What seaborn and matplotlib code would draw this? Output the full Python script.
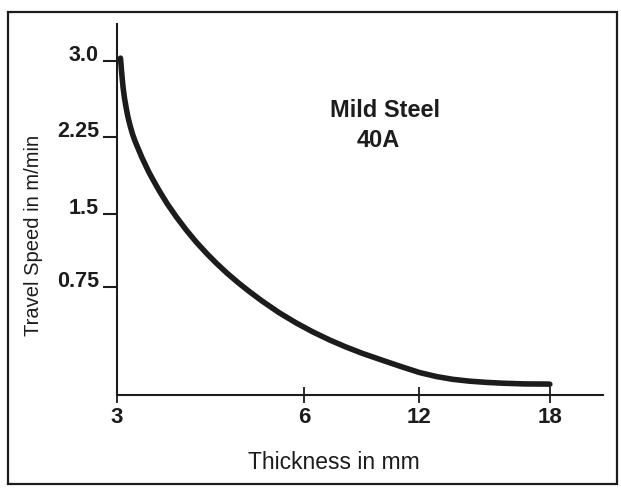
import numpy as np
import matplotlib
matplotlib.use("Agg")
import matplotlib.pyplot as plt
import seaborn as sns
from matplotlib.patches import Rectangle

# values
thickness = [3.056, 3.069, 3.083, 3.099, 3.12, 3.148, 3.176, 3.212, 3.249, 3.289,
             3.337, 3.401, 3.449, 3.513, 3.594, 3.674, 3.802, 3.947, 4.107, 4.267,
             4.428, 4.588, 4.765, 4.957, 5.134, 5.326, 5.599, 5.872, 6.421, 7.316,
             8.158, 9.053, 10.105, 11.158, 12.046, 12.824, 13.557, 14.336, 15.115,
             15.847, 16.855, 17.863, 18.0]
speed = [3.025, 2.926, 2.828, 2.73, 2.632, 2.534, 2.446, 2.358, 2.279, 2.211,
         2.141, 2.049, 1.987, 1.906, 1.816, 1.73, 1.603, 1.474, 1.338, 1.214,
         1.101, 0.997, 0.891, 0.786, 0.714, 0.652, 0.571, 0.5, 0.44, 0.383,
         0.335, 0.289, 0.241, 0.194, 0.156, 0.128, 0.109, 0.096, 0.0875,
         0.082, 0.077, 0.076, 0.075]

x_ticks = [3, 6, 12, 18]
y_ticks = [0.75, 1.5, 2.25, 3.0]
y_tick_labels = ["0.75", "1.5", "2.25", "3.0"]

# the sketch isn't evenly spaced, so the axes use a piecewise scale
x_anchor, x_pos = [3, 6, 12, 18], [0, 187, 301, 432]
y_anchor, y_pos = [0, 0.75, 1.5, 2.25, 3.0], [0, 108, 181, 258, 334.5]


def piecewise(src, dst):
    src = np.asarray(src, float)
    dst = np.asarray(dst, float)
    lo = (dst[1] - dst[0]) / (src[1] - src[0])
    hi = (dst[-1] - dst[-2]) / (src[-1] - src[-2])

    def f(v):
        v = np.asarray(v, float)
        out = np.interp(v, src, dst)
        out = np.where(v < src[0], dst[0] + (v - src[0]) * lo, out)
        out = np.where(v > src[-1], dst[-1] + (v - src[-1]) * hi, out)
        return out
    return f


sns.set_style("white")
plt.rcParams["font.family"] = ["Liberation Sans", "DejaVu Sans"]
ink = "#1c1c1c"

fig = plt.figure(figsize=(6.21, 4.95), dpi=100)
ax = fig.add_axes([117 / 621, 100 / 495, 486 / 621, 371 / 495])

sns.lineplot(x=thickness, y=speed, ax=ax, color=ink, linewidth=4, sort=False)

ax.set_xscale("function", functions=(piecewise(x_anchor, x_pos), piecewise(x_pos, x_anchor)))
ax.set_yscale("function", functions=(piecewise(y_anchor, y_pos), piecewise(y_pos, y_anchor)))
ax.set_xlim(3, 20.43)
ax.set_ylim(0, 3.36)

ax.set_xticks(x_ticks)
ax.set_xticklabels([str(t) for t in x_ticks], fontsize=16, fontweight="bold", color=ink)
ax.set_yticks(y_ticks)
ax.set_yticklabels(y_tick_labels, fontsize=15.5, fontweight="bold", color=ink)
for lab in ax.get_yticklabels():
    lab.set_va("baseline")

ax.tick_params(axis="x", bottom=True, direction="inout", length=11, width=1.3, pad=3, colors=ink)
ax.tick_params(axis="y", left=True, direction="out", length=10, width=1.5, pad=3, colors=ink)

sns.despine(ax=ax)
for s in ["left", "bottom"]:
    ax.spines[s].set_linewidth(1.5)
    ax.spines[s].set_color(ink)

ax.set_xlabel("Thickness in mm", fontsize=16.5, color=ink, va="center")
ax.xaxis.set_label_coords(0.4465, -0.1806)
ax.set_ylabel("Travel Speed in m/min", fontsize=14.5, color=ink, va="center")
ax.yaxis.set_label_coords(-0.1728, 0.431)

ax.text(0.551, 0.768, "Mild Steel", transform=ax.transAxes, ha="center", va="center",
        fontsize=17, fontweight="bold", color=ink)
ax.text(0.537, 0.687, "40A", transform=ax.transAxes, ha="center", va="center",
        fontsize=17, fontweight="bold", color=ink)

# outer border around the whole figure
fig.patches.append(Rectangle((8 / 621, 11 / 495), 609 / 621, 472 / 495, transform=fig.transFigure,
                             fill=False, edgecolor=ink, linewidth=1.6))

fig.savefig("out.png", dpi=100)
